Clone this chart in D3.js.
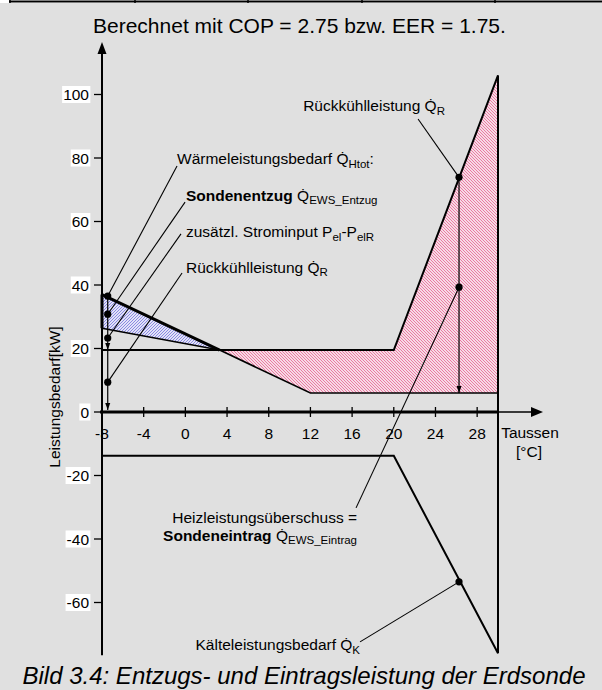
<!DOCTYPE html>
<html>
<head>
<meta charset="utf-8">
<script src="https://d3js.org/d3.v7.min.js"></script>
<style>
    body { margin: 0; background: #e0e0e0; }
    text { font-family: "Liberation Sans", Arial, sans-serif; fill: #000; }
</style>
</head>
<body>
<div id="chart"></div>
<script>
// Achsen
var tempTicks = [-8, -4, 0, 4, 8, 12, 16, 20, 24, 28];
var powerTicks = [100, 80, 60, 40, 20, 0, -20, -40, -60];

// Kennlinien [Taussen, kW]
var heatDemand = [[-8, 37], [12, 6], [30, 6]];          // Waermeleistungsbedarf
var recoolLine = [[-8, 19.5], [20, 19.5], [30, 106]];   // Rueckkuehlleistung
var coolDemand = [[-8, -13.8], [20, -13.8], [30, -76]]; // Kaelteleistungsbedarf
var sondeStart = [-8, 26.4];                            // untere Kante Sondenentzug

// Markierungen
var leftMarkT = -7.45;
var leftMarks = [36.5, 30.8, 23.3, 9.4];
var rightMarkT = 26.26;
var rightMarks = [73.9, 39.3];
var coolMark = [26.26, -53.5];

// Beschriftungen: Text-Position und Linie zum Punkt (alles in Daten-Einheiten)
var labels = [
    { x: -0.8, y: 78.1, anchor: 'start', from: [-0.8, 77.5], to: [leftMarkT, 36.5],
      parts: [{ t: 'Wärmeleistungsbedarf ' }, { t: 'Q\u0307' }, { t: 'Htot', sub: true }, { t: ':' }] },
    { x: 0.06, y: 66.5, anchor: 'start', from: [-0.03, 66.1], to: [leftMarkT, 30.8],
      parts: [{ t: 'Sondenentzug ', bold: true }, { t: 'Q\u0307' }, { t: 'EWS_Entzug', sub: true }] },
    { x: 0.06, y: 55.1, anchor: 'start', from: [-0.42, 56.1], to: [leftMarkT, 23.3],
      parts: [{ t: 'zusätzl. Strominput P' }, { t: 'el', sub: true }, { t: '-P' }, { t: 'elR', sub: true }] },
    { x: 0.06, y: 43.8, anchor: 'start', from: [-0.32, 43.8], to: [leftMarkT, 9.4],
      parts: [{ t: 'Rückkühlleistung ' }, { t: 'Q\u0307' }, { t: 'R', sub: true }] },
    { x: 11.3, y: 94.8, anchor: 'start', from: [22.33, 92.3], to: [rightMarkT, 73.9],
      parts: [{ t: 'Rückkühlleistung ' }, { t: 'Q\u0307' }, { t: 'R', sub: true }] },
    { x: 16.47, y: -35, anchor: 'end', from: [16.38, -30.2], to: [rightMarkT, 39.3],
      parts: [{ t: 'Heizleistungsüberschuss =' }] },
    { x: 16.47, y: -40.6, anchor: 'end',
      parts: [{ t: 'Sondeneintrag ', bold: true }, { t: 'Q\u0307' }, { t: 'EWS_Eintrag', sub: true }] },
    { x: 16.76, y: -75, anchor: 'end', from: [16.76, -72.4], to: coolMark,
      parts: [{ t: 'Kälteleistungsbedarf ' }, { t: 'Q\u0307' }, { t: 'K', sub: true }] }
];

var width = 602, height = 690;

var svg = d3.select('#chart').append('svg')
    .attr('width', width)
    .attr('height', height);

svg.append('rect').attr('width', width).attr('height', height).attr('fill', '#e0e0e0');

// Tabellenrand oben
svg.append('rect').attr('x', 0).attr('y', 0).attr('width', width).attr('height', 3).attr('fill', '#fff');
svg.append('line').attr('x1', 9).attr('x2', width).attr('y1', 1.5).attr('y2', 1.5)
    .attr('stroke', '#000').attr('stroke-width', 2);
[10, 135, 248, 362, 495].forEach(function (px) {
    svg.append('line').attr('x1', px).attr('x2', px).attr('y1', 0).attr('y2', 3)
        .attr('stroke', '#000').attr('stroke-width', 1.5);
});

var x = d3.scaleLinear().domain([-8, 30]).range([102, 498]);
var y = d3.scaleLinear().domain([0, 100]).range([412, 94.5]);

// Schraffuren
var defs = svg.append('defs');
var pink = defs.append('pattern').attr('id', 'hatchPink').attr('patternUnits', 'userSpaceOnUse')
    .attr('width', 3).attr('height', 3);
pink.append('rect').attr('width', 3).attr('height', 3).attr('fill', '#f6dbe6');
pink.append('path').attr('d', 'M0,0 L3,3 M-1,2 L1,4 M2,-1 L4,1').attr('stroke', '#e8628f').attr('stroke-width', 0.8);

var blue = defs.append('pattern').attr('id', 'hatchBlue').attr('patternUnits', 'userSpaceOnUse')
    .attr('width', 3).attr('height', 3);
blue.append('rect').attr('width', 3).attr('height', 3).attr('fill', '#e2e2f8');
blue.append('path').attr('d', 'M0,3 L3,0 M-1,1 L1,-1 M2,4 L4,2').attr('stroke', '#7474dc').attr('stroke-width', 0.8);

// Schnittpunkt Heizlinie / Rueckkuehl-Niveau
var slope = (heatDemand[1][1] - heatDemand[0][1]) / (heatDemand[1][0] - heatDemand[0][0]);
var cross = [heatDemand[0][0] + (recoolLine[0][1] - heatDemand[0][1]) / slope, recoolLine[0][1]];

var line = d3.line().x(function (d) { return x(d[0]); }).y(function (d) { return y(d[1]); });

// Flaechen
svg.append('path')
    .attr('d', line([heatDemand[0], cross, sondeStart]) + 'Z')
    .attr('fill', 'url(#hatchBlue)');
svg.append('path')
    .attr('d', line([cross, recoolLine[1], recoolLine[2], heatDemand[2], heatDemand[1]]) + 'Z')
    .attr('fill', 'url(#hatchPink)');

// Achsen
var axisG = svg.append('g');
axisG.append('line')
    .attr('x1', x(-8)).attr('x2', x(-8))
    .attr('y1', y(114)).attr('y2', y(coolDemand[2][1]) + 2)
    .attr('stroke', '#000').attr('stroke-width', 2);
axisG.append('path')
    .attr('d', 'M' + x(-8) + ',' + (y(116.5)) + ' l-4.5,12 l9,0 Z')
    .attr('fill', '#000');

axisG.append('line')
    .attr('x1', x(-8) - 2).attr('x2', x(30))
    .attr('y1', y(0)).attr('y2', y(0))
    .attr('stroke', '#000').attr('stroke-width', 3);
axisG.append('line')
    .attr('x1', x(30)).attr('x2', x(33.2))
    .attr('y1', y(0)).attr('y2', y(0))
    .attr('stroke', '#000').attr('stroke-width', 1.5);
axisG.append('path')
    .attr('d', 'M' + (x(30) + 45) + ',' + y(0) + ' l-12,-5 l0,10 Z')
    .attr('fill', '#000');

axisG.selectAll('.xtick')
    .data(tempTicks)
    .enter()
    .append('line')
    .attr('class', 'xtick')
    .attr('x1', function (d) { return x(d); })
    .attr('x2', function (d) { return x(d); })
    .attr('y1', y(0) - 5).attr('y2', y(0) + 5)
    .attr('stroke', '#000').attr('stroke-width', 1.3);

axisG.selectAll('.xlabel')
    .data(tempTicks)
    .enter()
    .append('text')
    .attr('class', 'xlabel')
    .attr('x', function (d) { return x(d); })
    .attr('y', y(0) + 27)
    .attr('text-anchor', 'middle')
    .attr('font-size', 15.5)
    .text(function (d) { return d; });

axisG.selectAll('.ytick')
    .data(powerTicks)
    .enter()
    .append('line')
    .attr('class', 'ytick')
    .attr('x1', x(-8) - 8).attr('x2', x(-8))
    .attr('y1', function (d) { return y(d); })
    .attr('y2', function (d) { return y(d); })
    .attr('stroke', '#000').attr('stroke-width', 1.3);

var ylab = axisG.selectAll('.ylabel')
    .data(powerTicks)
    .enter()
    .append('g')
    .attr('class', 'ylabel');
ylab.append('text')
    .attr('x', 89)
    .attr('y', function (d) { return y(d) + 5.5; })
    .attr('text-anchor', 'end')
    .attr('font-size', 15.5)
    .text(function (d) { return d; });
ylab.each(function () {
    var g = d3.select(this);
    var bb = g.select('text').node().getBBox();
    g.insert('rect', 'text')
        .attr('x', bb.x - 1).attr('y', bb.y)
        .attr('width', bb.width + 2).attr('height', bb.height)
        .attr('fill', '#fff');
});

svg.append('text')
    .attr('transform', 'translate(60,397) rotate(-90)')
    .attr('text-anchor', 'middle')
    .attr('font-size', 15.5)
    .text('Leistungsbedarf[kW]');

svg.append('text').attr('x', 530).attr('y', 438).attr('text-anchor', 'middle')
    .attr('font-size', 15.5).text('Taussen');
svg.append('text').attr('x', 529).attr('y', 457).attr('text-anchor', 'middle')
    .attr('font-size', 15.5).text('[°C]');

// Kennlinien
svg.append('path').attr('d', line([heatDemand[0], cross]))
    .attr('fill', 'none').attr('stroke', '#000').attr('stroke-width', 3);
svg.append('path').attr('d', line([cross, heatDemand[1], heatDemand[2]]))
    .attr('fill', 'none').attr('stroke', '#000').attr('stroke-width', 1.6);
svg.append('path').attr('d', line([sondeStart, cross]))
    .attr('fill', 'none').attr('stroke', '#000').attr('stroke-width', 1.5);
svg.append('path').attr('d', line([heatDemand[0], sondeStart]))
    .attr('fill', 'none').attr('stroke', '#000').attr('stroke-width', 3);
svg.append('path').attr('d', line(recoolLine))
    .attr('fill', 'none').attr('stroke', '#000').attr('stroke-width', 2);
svg.append('path').attr('d', line(coolDemand))
    .attr('fill', 'none').attr('stroke', '#000').attr('stroke-width', 2);
svg.append('path').attr('d', line([recoolLine[2], coolDemand[2]]))
    .attr('fill', 'none').attr('stroke', '#000').attr('stroke-width', 2);

// Pfeile
function arrowDown(xv, yv) {
    svg.append('path')
        .attr('d', 'M' + x(xv) + ',' + y(yv) + ' l-2.5,-7 l5,0 Z')
        .attr('fill', '#000');
}
svg.append('line')
    .attr('x1', x(leftMarkT)).attr('x2', x(leftMarkT))
    .attr('y1', y(leftMarks[0])).attr('y2', y(0) - 2)
    .attr('stroke', '#000').attr('stroke-width', 1.2);
arrowDown(leftMarkT, 0.6);
arrowDown(leftMarkT, recoolLine[0][1]);
svg.append('line')
    .attr('x1', x(rightMarkT)).attr('x2', x(rightMarkT))
    .attr('y1', y(rightMarks[0])).attr('y2', y(heatDemand[2][1]))
    .attr('stroke', '#000').attr('stroke-width', 1.2);
arrowDown(rightMarkT, heatDemand[2][1]);

// Beschriftungen
labels.forEach(function (lb) {
    if (lb.from) {
        svg.append('line')
            .attr('x1', x(lb.from[0])).attr('y1', y(lb.from[1]))
            .attr('x2', x(lb.to[0])).attr('y2', y(lb.to[1]))
            .attr('stroke', '#000').attr('stroke-width', 1.1);
    }
    var t = svg.append('text')
        .attr('x', x(lb.x)).attr('y', y(lb.y))
        .attr('text-anchor', lb.anchor)
        .attr('font-size', 15.5);
    var shifted = false;
    lb.parts.forEach(function (p) {
        var ts = t.append('tspan').text(p.t);
        if (p.bold) ts.attr('font-weight', 'bold');
        if (p.sub) {
            ts.attr('font-size', 11.5);
            if (!shifted) { ts.attr('dy', 3.5); shifted = true; }
        } else if (shifted) {
            ts.attr('dy', -3.5);
            shifted = false;
        }
    });
});

// Punkte
var dots = leftMarks.map(function (v) { return [leftMarkT, v]; })
    .concat(rightMarks.map(function (v) { return [rightMarkT, v]; }))
    .concat([coolMark]);
svg.selectAll('.dot')
    .data(dots)
    .enter()
    .append('circle')
    .attr('class', 'dot')
    .attr('cx', function (d) { return x(d[0]); })
    .attr('cy', function (d) { return y(d[1]); })
    .attr('r', 3.6)
    .attr('fill', '#000');

// Titel und Bildunterschrift
svg.append('text').attr('x', 93).attr('y', 33).attr('font-size', 21)
    .text('Berechnet mit COP = 2.75 bzw. EER = 1.75.');
svg.append('text').attr('x', 304).attr('y', 684).attr('text-anchor', 'middle')
    .attr('font-size', 24).attr('font-style', 'italic')
    .text('Bild 3.4: Entzugs- und Eintragsleistung der Erdsonde');
</script>
</body>
</html>
